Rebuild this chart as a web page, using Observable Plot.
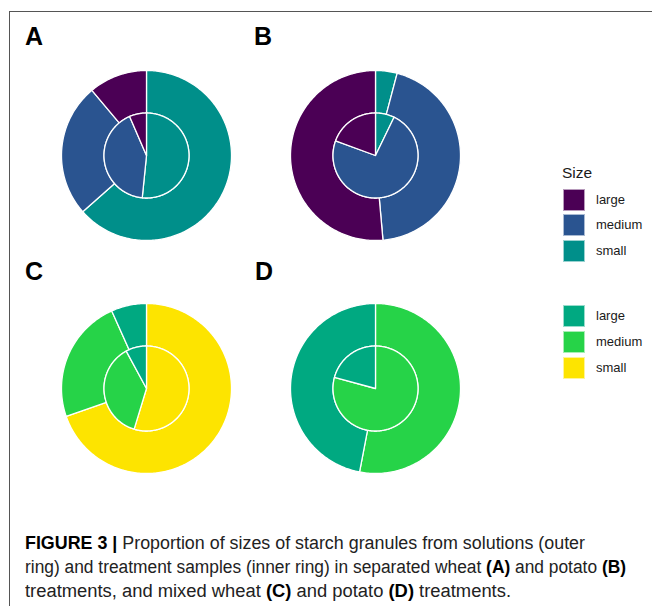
<!DOCTYPE html>
<html>
<head>
<meta charset="utf-8">
<script src="https://cdn.jsdelivr.net/npm/d3@7"></script>
<script src="https://cdn.jsdelivr.net/npm/@observablehq/plot@0.6"></script>
<style>
  body { margin: 0; background: #fff; font-family: "Liberation Sans", Arial, Helvetica, sans-serif; }
  #root { position: relative; width: 652px; height: 606px; overflow: hidden; background: #fff; }
  .frame { position: absolute; left: 9px; top: 11px; width: 800px; height: 800px; border-left: 1px solid #555; border-top: 1px solid #555; }
  .panel { position: absolute; width: 204px; height: 204px; }
  .tag { position: absolute; font-weight: bold; font-size: 25px; line-height: 25px; color: #000; }
  .leg-title { position: absolute; font-size: 15.5px; line-height: 16px; color: #1a1a1a; }
  .sw { position: absolute; width: 22px; height: 22px; box-sizing: border-box; border: 1px solid rgba(255,255,255,0.6); }
  .lab { position: absolute; font-size: 13px; line-height: 22px; color: #1a1a1a; }
  .cap { position: absolute; left: 25px; font-family: "Liberation Sans Narrow", "Liberation Sans", Arial, sans-serif; font-size: 18px; line-height: 20px; white-space: nowrap; color: #222; transform-origin: 0 0; }
  .cap b { color: #000; }
</style>
</head>
<body>
<div id="root"><div class="frame"></div></div>
<script>
// ---- data (percent of granules, order clockwise from 12 o'clock) ----
const sizes = ["small", "medium", "large"];
const legendLabels = ["large", "medium", "small"];
const panelTags = ["A", "B", "C", "D"];
// outer ring = solutions, inner ring = treatment samples
const outerA = [63.5, 25.4, 11.1];
const innerA = [51.6, 41.9, 6.5];
const outerB = [4.1, 44.5, 51.4];
const innerB = [7.2, 73.4, 19.4];
const outerC = [69.7, 23.6, 6.7];
const innerC = [54.7, 37.4, 7.9];
const outerD = [0, 53.0, 47.0];
const innerD = [0, 79.2, 20.8];
// palettes keyed by size (separated vs mixed treatments)
const paletteSeparated = ["#008F8A", "#2A5490", "#4B0055"]; // small, medium, large
const paletteMixed = ["#FDE400", "#26D348", "#00A981"];     // small, medium, large
const captionLines = [
  "<b>FIGURE 3 |</b> Proportion of sizes of starch granules from solutions (outer",
  "ring) and treatment samples (inner ring) in separated wheat <b>(A)</b> and potato <b>(B)</b>",
  "treatments, and mixed wheat <b>(C)</b> and potato <b>(D)</b> treatments."
];

const root = document.getElementById("root");

function ringPolygons(values, r0, r1, ring) {
  const total = d3.sum(values);
  const rows = [];
  let acc = 0;
  values.forEach((v, i) => {
    if (!v) return;
    const a0 = acc / total * 2 * Math.PI;
    const a1 = (acc + v) / total * 2 * Math.PI;
    acc += v;
    const n = Math.max(2, Math.ceil((a1 - a0) / (Math.PI / 180)));
    const id = ring + "-" + sizes[i];
    const pts = [];
    for (let k = 0; k <= n; k++) {
      const a = a0 + (a1 - a0) * k / n;
      pts.push([r1 * Math.sin(a), r1 * Math.cos(a)]);
    }
    if (r0 === 0) pts.push([0, 0]);
    else for (let k = n; k >= 0; k--) {
      const a = a0 + (a1 - a0) * k / n;
      pts.push([r0 * Math.sin(a), r0 * Math.cos(a)]);
    }
    pts.push(pts[0]);
    for (const [x, y] of pts) rows.push({x, y, id, size: sizes[i]});
  });
  return rows;
}

const panels = [
  {tag: panelTags[0], outer: outerA, inner: innerA, pal: paletteSeparated, cx: 146, cy: 155, tx: 25, ty: 23.5},
  {tag: panelTags[1], outer: outerB, inner: innerB, pal: paletteSeparated, cx: 374.5, cy: 155, tx: 254, ty: 23.5},
  {tag: panelTags[2], outer: outerC, inner: innerC, pal: paletteMixed, cx: 146, cy: 388, tx: 25, ty: 258.5},
  {tag: panelTags[3], outer: outerD, inner: innerD, pal: paletteMixed, cx: 375, cy: 388, tx: 255, ty: 258.5}
];

for (const p of panels) {
  const data = [...ringPolygons(p.outer, 0.5, 1, "outer"), ...ringPolygons(p.inner, 0, 0.5, "inner")];
  const chart = Plot.plot({
    width: 204, height: 204, margin: 0,
    x: {domain: [-1.2, 1.2], axis: null},
    y: {domain: [-1.2, 1.2], axis: null},
    color: {domain: sizes, range: p.pal},
    style: {background: "transparent", overflow: "visible"},
    marks: [
      Plot.line(data, {x: "x", y: "y", z: "id", fill: "size", stroke: "white", strokeWidth: 1.3, strokeLinejoin: "round", curve: "linear"})
    ]
  });
  const div = document.createElement("div");
  div.className = "panel";
  div.style.left = (p.cx - 102) + "px";
  div.style.top = (p.cy - 102) + "px";
  div.appendChild(chart);
  root.appendChild(div);
  const t = document.createElement("div");
  t.className = "tag";
  t.textContent = p.tag;
  t.style.left = p.tx + "px";
  t.style.top = p.ty + "px";
  root.appendChild(t);
}

// legends
function legend(pal, top, title) {
  if (title) {
    const tt = document.createElement("div");
    tt.className = "leg-title";
    tt.textContent = title;
    tt.style.left = "562px";
    tt.style.top = (top - 24) + "px";
    root.appendChild(tt);
  }
  legendLabels.forEach((lab, i) => {
    const col = pal[sizes.indexOf(lab)];
    const sw = document.createElement("div");
    sw.className = "sw";
    sw.style.background = col;
    sw.style.left = "563px";
    sw.style.top = (top + i * 25.9) + "px";
    root.appendChild(sw);
    const l = document.createElement("div");
    l.className = "lab";
    l.textContent = lab;
    l.style.left = "596px";
    l.style.top = (top + i * 25.9) + "px";
    root.appendChild(l);
  });
}
legend(paletteSeparated, 188.5, "Size");
legend(paletteMixed, 305, null);

// caption
const targets = [560, 601, 486];
const baselines = [548, 572, 596];
captionLines.forEach((html, i) => {
  const d = document.createElement("div");
  d.className = "cap";
  d.innerHTML = html;
  d.style.top = (baselines[i] - 15) + "px";
  root.appendChild(d);
  const w = d.getBoundingClientRect().width;
  d.style.transform = `scaleX(${targets[i] / w})`;
});
</script>
</body>
</html>
